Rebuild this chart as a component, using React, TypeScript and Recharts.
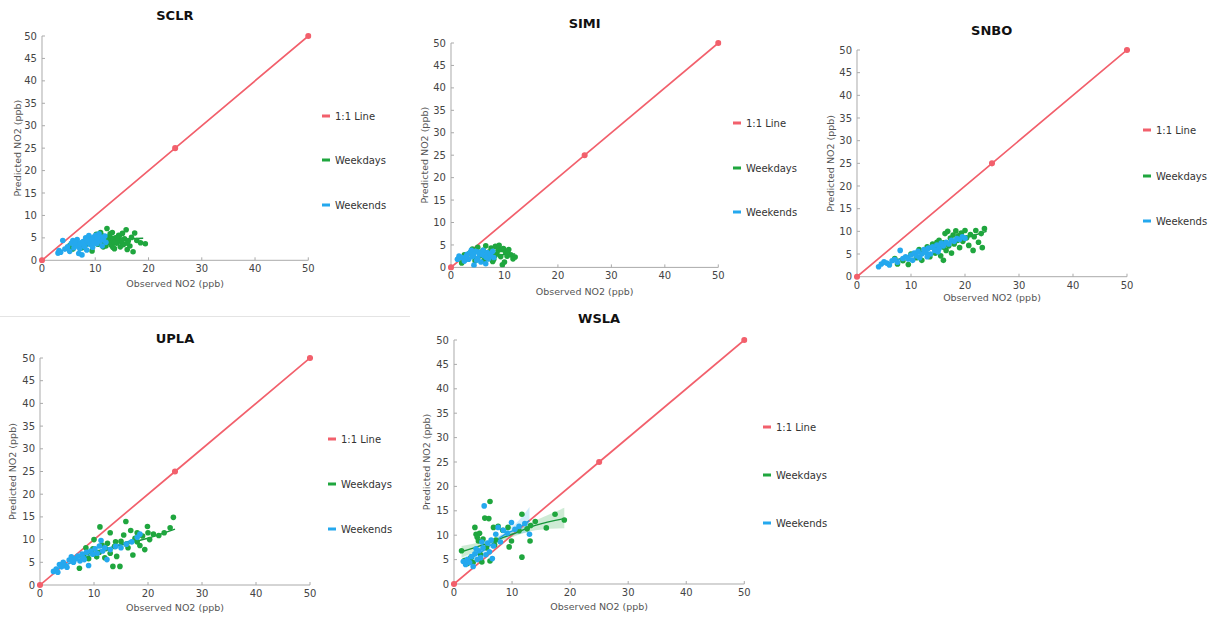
import { ComposedChart, Scatter, Line, Area, XAxis, YAxis } from "recharts"

const FONT = '"DejaVu Sans", Verdana, sans-serif'
const RED = "#f2606c"
const GREEN = "#1fa63e"
const BLUE = "#24a8ee"

const xTicks = [0, 10, 20, 30, 40, 50]
const yTicks = [0, 5, 10, 15, 20, 25, 30, 35, 40, 45, 50]
const legendLabels = ["1:1 Line", "Weekdays", "Weekends"]

type Pair = [number, number]

// 1:1 reference line, markers at 0, 25 and 50
const oneToOne: Pair[] = [[0, 0], [25, 25], [50, 50]]

// SCLR
const sclrWeekdays: Pair[] = [
  [5.2, 3.3], [5.8, 2.5], [6.5, 3.8], [7.5, 2.8], [8.2, 3.5], [9.4, 2.1], [9.8, 4.2], [10.5, 3.6],
  [10.9, 4.5], [11.2, 5.5], [11.5, 3.0], [11.8, 4.8], [12.2, 7.1], [12.4, 5.2], [12.6, 4.0], [12.8, 5.9],
  [13.0, 3.4], [13.2, 6.2], [13.4, 4.6], [13.6, 2.6], [13.8, 5.0], [14.0, 3.8], [14.2, 4.4], [14.4, 5.6],
  [14.7, 3.0], [14.9, 4.1], [15.1, 6.0], [15.3, 3.5], [15.5, 4.8], [15.8, 6.8], [16.0, 2.4], [16.2, 4.3],
  [16.5, 3.2], [16.8, 5.1], [17.1, 1.9], [17.4, 6.1], [17.8, 4.4], [18.5, 3.9], [19.4, 3.7], [12.0, 3.2],
  [13.0, 4.9], [14.5, 5.3], [11.0, 6.2], [10.2, 5.8], [12.9, 4.2], [13.6, 4.0], [14.1, 5.0], [15.0, 4.4],
  [11.6, 4.1], [12.3, 4.6], [16.0, 3.8], [13.3, 2.9],
]
const sclrWeekends: Pair[] = [
  [3.0, 1.6], [3.2, 2.2], [3.5, 1.8], [3.9, 4.4], [4.3, 2.5], [4.8, 3.0], [5.2, 2.0], [5.5, 3.8],
  [5.8, 4.4], [6.0, 2.8], [6.3, 3.5], [6.6, 4.6], [6.9, 1.5], [7.1, 2.6], [7.3, 3.9], [7.5, 1.2],
  [7.7, 4.2], [8.0, 3.0], [8.2, 5.0], [8.4, 2.3], [8.6, 4.0], [8.8, 5.5], [9.0, 3.6], [9.2, 4.8],
  [9.5, 2.9], [9.7, 5.2], [9.9, 4.1], [10.1, 5.6], [10.3, 3.7], [10.5, 4.7], [10.7, 5.9], [10.9, 4.3],
  [11.1, 5.1], [11.3, 3.2], [11.5, 4.6], [11.8, 5.4], [12.0, 4.0], [6.5, 3.2], [7.9, 3.3], [9.3, 4.4],
  [8.5, 4.5], [9.6, 3.8], [10.4, 5.1], [7.0, 3.5], [6.2, 4.0],
]
const sclrWeekdayFit: Pair[] = [[5, 3.6], [10, 4.1], [15, 4.7], [19, 4.9]]
const sclrWeekendFit: Pair[] = [[3, 1.9], [6, 2.9], [9, 4.0], [12, 4.8]]

// SIMI
const simiWeekdays: Pair[] = [
  [2, 1], [2.5, 2.8], [3, 2], [3.5, 3.2], [4, 4.1], [4.5, 1.5], [5, 4.5], [5.5, 2.6], [6, 3.8],
  [6.5, 4.8], [7, 2], [7.2, 3.5], [7.5, 4.3], [8, 1.8], [8.3, 4.7], [8.6, 3], [9, 4.9], [9.3, 2.4],
  [9.6, 0.6], [9.8, 4.2], [10.2, 3.4], [10.5, 2.5], [10.8, 4.0], [11.2, 2.8], [11.6, 1.9], [12, 2.3],
  [8.8, 3.8], [7.8, 1.3], [6.2, 1.6], [10, 1.2], [9.4, 4.0], [8.2, 2.6], [10.6, 3.6], [7.6, 3.0],
]
const simiWeekends: Pair[] = [
  [1.2, 1.8], [1.5, 2.5], [2, 2.2], [2.5, 1.4], [3, 2.9], [3.3, 1.8], [3.6, 3.3], [4, 2.4],
  [4.3, 0.5], [4.6, 3.6], [5, 2], [5.3, 3.0], [5.6, 1.2], [6, 3.8], [6.2, 2.6], [6.5, 0.8],
  [6.8, 3.3], [7, 1.9], [7.4, 2.8], [7.8, 3.6], [8, 2.2], [5.8, 2.9], [4.8, 1.6], [3.8, 3.8],
  [2.8, 2.4], [4.2, 2.9], [5.1, 3.4], [6.6, 2.2],
]
const simiWeekdayFit: Pair[] = [[2, 2.0], [7, 2.6], [12, 3.0]]
const simiWeekendFit: Pair[] = [[1, 1.8], [4.5, 2.4], [8, 2.8]]

// SNBO
const snboWeekdays: Pair[] = [
  [7.0, 4.0], [7.5, 2.8], [8.5, 3.5], [9.5, 2.7], [10, 5], [11, 4.2], [11.5, 6.0], [12, 3.6],
  [12.5, 5.5], [13, 6.6], [13.5, 4.4], [14, 7.2], [14.5, 5.2], [15, 6.0], [15.2, 8.0], [15.5, 4.6],
  [16, 3.6], [16, 7.5], [16.3, 9.5], [16.5, 5.8], [16.8, 10], [17, 6.8], [17.3, 8.5], [17.5, 5.2],
  [17.8, 9.2], [18, 7.2], [18.3, 10.1], [18.6, 8.0], [19, 6.4], [19.3, 9.6], [19.6, 7.8], [20, 10.2],
  [20.3, 8.6], [20.7, 6.9], [21, 9.3], [21.5, 5.8], [21.7, 8.8], [22, 10.2], [22.5, 7.6], [23, 9.5],
  [23.2, 6.4], [23.6, 10.6], [16, 6.5], [14.8, 7.6], [18.8, 9.0],
]
const snboWeekends: Pair[] = [
  [4, 2.2], [4.5, 2.8], [5, 3.3], [5.5, 3.0], [6, 2.6], [6.5, 3.5], [7, 3.8], [7.5, 3.2],
  [8, 5.8], [8.5, 4.0], [9, 4.4], [9.5, 3.9], [10, 4.8], [10.3, 3.6], [10.6, 5.2], [11, 4.6],
  [11.3, 5.6], [11.6, 4.2], [12, 5.0], [12.4, 6.0], [12.8, 5.4], [13.2, 6.3], [13.6, 5.0], [14, 6.6],
  [14.4, 5.8], [14.8, 7.0], [15.2, 6.2], [15.6, 7.4], [16, 6.8], [16.5, 7.6], [17, 7.2], [17.5, 8.0],
  [18, 7.8], [18.5, 8.4], [19, 8.2], [19.5, 8.8], [20, 8.5], [13, 4.4], [15, 5.5],
]
const snboWeekdayFit: Pair[] = [[7, 3.6], [15, 6.6], [24, 10.0]]
const snboWeekendFit: Pair[] = [[4, 2.4], [12, 5.4], [20, 8.5]]

// UPLA
const uplaWeekdays: Pair[] = [
  [7.3, 3.7], [8, 6.5], [8.5, 8.2], [9, 5.8], [9.5, 7.5], [10, 10], [10.5, 6.2], [11.1, 12.8],
  [11.5, 8.8], [12, 6.0], [12.5, 9.2], [13, 7.0], [13.5, 4.1], [13.8, 8.5], [14.2, 6.3], [14.8, 4.1],
  [15, 9.6], [15.5, 11.0], [15.9, 14.0], [16.3, 8.2], [16.8, 12.0], [17.2, 6.6], [17.6, 10.3], [18, 11.5],
  [18.5, 8.7], [19, 10.8], [19.4, 7.8], [19.9, 12.9], [20.3, 10.0], [21, 11.2], [22, 10.9], [23, 11.5],
  [24.1, 12.6], [24.7, 14.9], [12.2, 8.0], [14, 9.5], [16, 9.0], [18, 9.5], [20, 11.5], [11, 7.2],
  [9.8, 8.0], [13, 11.5],
]
const uplaWeekends: Pair[] = [
  [2.5, 3.0], [3, 3.5], [3.3, 2.8], [3.6, 4.5], [4, 4.0], [4.3, 5.0], [4.7, 4.3], [5, 3.9],
  [5.4, 5.5], [5.8, 6.2], [6.2, 5.0], [6.6, 5.8], [7, 6.4], [7.4, 5.3], [7.8, 6.8], [8.2, 5.6],
  [8.6, 7.2], [9, 4.3], [9.4, 7.5], [9.8, 6.8], [10.2, 8.0], [10.6, 7.0], [11, 8.6], [11.3, 9.8],
  [11.6, 7.5], [12, 8.2], [12.4, 5.6], [13, 7.8], [14, 8.5], [15, 8.2], [16, 9.0], [17, 9.5],
  [18, 10.5], [18.5, 11.2], [6, 5.4], [8, 6.0],
]
const uplaWeekdayFit: Pair[] = [[6, 5.6], [10, 7.2], [15, 8.8], [20, 10.3], [25, 12.3]]
const uplaWeekendFit: Pair[] = [[2.5, 3.2], [8, 6.0], [13, 8.2], [18.5, 10.5]]

// WSLA
const wslaWeekdays: Pair[] = [
  [1.3, 6.8], [1.8, 4.8], [2.3, 4.2], [2.8, 5.2], [3.3, 4.4], [3.6, 11.6], [3.8, 10.2], [4.0, 9.6],
  [4.2, 8.8], [4.4, 10.4], [4.6, 6.0], [5.0, 9.2], [5.3, 13.5], [5.6, 7.4], [6.0, 13.4], [6.2, 16.9],
  [6.2, 4.7], [6.8, 11.6], [7.2, 9.0], [7.6, 11.8], [8.4, 11.0], [9.3, 11.6], [9.5, 7.6], [9.9, 8.8],
  [11.2, 10.9], [11.7, 5.5], [11.7, 14.3], [12.6, 11.3], [13.1, 8.8], [13.2, 12.0], [14.0, 12.8],
  [15.9, 11.5], [17.4, 14.3], [19.0, 13.1], [7.0, 8.0], [4.8, 4.5], [3.0, 5.5],
]
const wslaWeekends: Pair[] = [
  [1.6, 4.6], [2.0, 4.0], [2.3, 5.0], [2.7, 4.4], [3.0, 5.6], [3.3, 3.6], [3.6, 6.2], [4.0, 5.0],
  [4.3, 6.8], [4.6, 5.4], [5.0, 7.4], [5.2, 16.0], [5.5, 6.0], [5.8, 8.4], [6.1, 6.6], [6.4, 9.0],
  [6.8, 7.8], [7.2, 10.2], [7.6, 11.6], [8.0, 8.6], [8.5, 11.0], [9.2, 10.4], [9.9, 12.6], [10.5, 11.2],
  [11.2, 11.8], [12.2, 12.4], [13.0, 10.2], [4.8, 8.6], [3.8, 7.2], [6.6, 5.2],
]
const wslaWeekdayFit: Pair[] = [[1.3, 6.6], [5, 8.0], [10, 10.2], [14, 12.0], [19, 13.4]]
const wslaWeekendFit: Pair[] = [[1.6, 4.5], [5, 6.8], [9, 10.3], [11, 11.4], [13, 13.0]]
// confidence bands: x, low, high
const wslaWeekdayBand: [number, number, number][] = [
  [1.3, 5.4, 7.8], [5, 7.3, 8.7], [10, 9.6, 10.9], [14, 11.0, 13.0], [19, 11.4, 15.6],
]
const wslaWeekendBand: [number, number, number][] = [
  [1.6, 3.7, 5.4], [5, 6.2, 7.4], [9, 9.6, 11.0], [11, 10.2, 12.8], [13, 10.6, 15.8],
]

const pts = (a: Pair[]) => a.map(([x, y]) => ({ x, y }))
const band = (a: [number, number, number][]) => a.map(([x, lo, hi]) => ({ x, band: [lo, hi] }))

type Panel = {
  name: string
  left: number
  top: number
  width: number
  height: number
  titleY: number
  xLabelY: number
  yLabelX: number
  legendX: number
  legendY: number[]
  weekdays: Pair[]
  weekends: Pair[]
  weekdayFit: Pair[]
  weekendFit: Pair[]
  weekdayBand?: [number, number, number][]
  weekendBand?: [number, number, number][]
}

const panels: Panel[] = [
  { name: "SCLR", left: 41.7, top: 35.7, width: 266.3, height: 224.3, titleY: 15, xLabelY: 283, yLabelX: 17,
    legendX: 322, legendY: [116, 160, 205],
    weekdays: sclrWeekdays, weekends: sclrWeekends, weekdayFit: sclrWeekdayFit, weekendFit: sclrWeekendFit },
  { name: "SIMI", left: 451, top: 43.3, width: 267.3, height: 224.4, titleY: 23, xLabelY: 292, yLabelX: 425,
    legendX: 733, legendY: [123, 168, 212],
    weekdays: simiWeekdays, weekends: simiWeekends, weekdayFit: simiWeekdayFit, weekendFit: simiWeekendFit },
  { name: "SNBO", left: 856.7, top: 50, width: 270, height: 226.7, titleY: 30, xLabelY: 298, yLabelX: 830,
    legendX: 1143, legendY: [130, 176, 221],
    weekdays: snboWeekdays, weekends: snboWeekends, weekdayFit: snboWeekdayFit, weekendFit: snboWeekendFit },
  { name: "UPLA", left: 40, top: 358.3, width: 270, height: 227, titleY: 338, xLabelY: 608, yLabelX: 13,
    legendX: 328, legendY: [439, 484, 529],
    weekdays: uplaWeekdays, weekends: uplaWeekends, weekdayFit: uplaWeekdayFit, weekendFit: uplaWeekendFit },
  { name: "WSLA", left: 454, top: 340, width: 290.3, height: 244, titleY: 318, xLabelY: 607, yLabelX: 427,
    legendX: 763, legendY: [427, 475, 523],
    weekdays: wslaWeekdays, weekends: wslaWeekends, weekdayFit: wslaWeekdayFit, weekendFit: wslaWeekendFit,
    weekdayBand: wslaWeekdayBand, weekendBand: wslaWeekendBand },
]

const dot = (color: string) => (p: any) => <circle cx={p.cx} cy={p.cy} r={2.8} fill={color} />
const noDot = () => <g />

const tickStyle = { fontSize: 10, fill: "#444", fontFamily: FONT }
const labelStyle = { fontSize: 9.5, fill: "#555", fontFamily: FONT }

function StationChart({ p }: { p: Panel }) {
  const ml = 40
  const mt = 10
  const xh = 30
  const w = p.width + ml + 10
  const h = p.height + mt + xh
  const legendColors = [RED, GREEN, BLUE]
  return (
    <>
      <div
        style={{
          position: "absolute", left: p.left + p.width / 2, top: p.titleY, transform: "translate(-50%, -50%)",
          fontFamily: FONT, fontWeight: "bold", fontSize: 13, color: "#111", whiteSpace: "nowrap",
        }}
      >
        {p.name}
      </div>
      <div style={{ position: "absolute", left: p.left - ml, top: p.top - mt }}>
        <ComposedChart width={w} height={h} margin={{ top: mt, right: 10, left: 10, bottom: 0 }}>
          <XAxis
            type="number" dataKey="x" domain={[0, 50]} ticks={xTicks} interval={0} allowDataOverflow
            height={xh} stroke="#aaa" tick={tickStyle} tickSize={-3} tickMargin={8}
            label={{ value: "Observed NO2 (ppb)", position: "center", dy: p.xLabelY - (p.top + p.height) - 15, style: labelStyle }}
          />
          <YAxis
            type="number" dataKey="y" domain={[0, 50]} ticks={yTicks} interval={0} allowDataOverflow
            width={30} stroke="#aaa" tick={tickStyle} tickSize={-3} tickMargin={8}
            label={{ value: "Predicted NO2 (ppb)", angle: -90, position: "center", dx: 15 - (p.left - p.yLabelX), style: labelStyle }}
          />
          <Line data={pts(oneToOne)} dataKey="y" stroke={RED} strokeWidth={1.7}
            dot={{ r: 2.2, fill: RED, stroke: RED, clipDot: false }} activeDot={false} isAnimationActive={false} />
          <Scatter data={pts(p.weekdays)} fill={GREEN} shape={dot(GREEN)} isAnimationActive={false} />
          <Scatter data={pts(p.weekends)} fill={BLUE} shape={dot(BLUE)} isAnimationActive={false} />
          {p.weekdayBand && (
            <Area data={band(p.weekdayBand)} dataKey="band" type="monotone" stroke="none"
              fill={GREEN} fillOpacity={0.22} isAnimationActive={false} />
          )}
          {p.weekendBand && (
            <Area data={band(p.weekendBand)} dataKey="band" type="monotone" stroke="none"
              fill={BLUE} fillOpacity={0.22} isAnimationActive={false} />
          )}
          <Line data={pts(p.weekdayFit)} dataKey="y" type="monotone" stroke="#16963a" strokeWidth={1.4}
            dot={noDot} activeDot={false} isAnimationActive={false} />
          <Line data={pts(p.weekendFit)} dataKey="y" type="monotone" stroke="#1f9fe6" strokeWidth={1.4}
            dot={noDot} activeDot={false} isAnimationActive={false} />
        </ComposedChart>
      </div>
      {legendLabels.map((label, i) => (
        <div key={label} style={{ position: "absolute", left: p.legendX, top: p.legendY[i], transform: "translateY(-50%)",
          display: "flex", alignItems: "center", fontFamily: FONT, fontSize: 10, color: "#333", whiteSpace: "nowrap" }}>
          <span style={{ display: "inline-block", width: 8, height: 3, background: legendColors[i], marginRight: 5 }} />
          {label}
        </div>
      ))}
    </>
  )
}

export default function App() {
  return (
    <div style={{ position: "absolute", left: 0, top: 0, width: 1210, height: 619, background: "#fff", overflow: "hidden" }}>
      <div style={{ position: "absolute", left: 0, top: 316, width: 410, height: 1, background: "#e4e4e4" }} />
      {panels.map((p) => (
        <StationChart key={p.name} p={p} />
      ))}
    </div>
  )
}
